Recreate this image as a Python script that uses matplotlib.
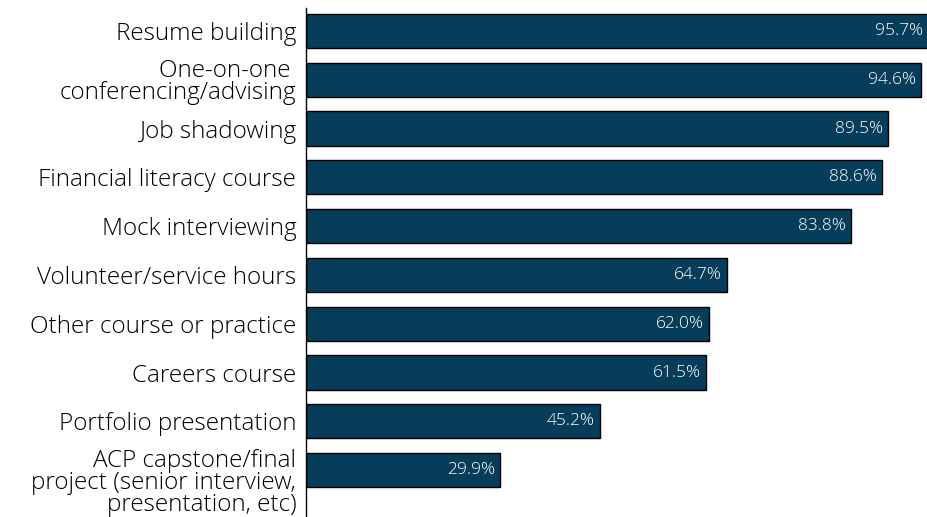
import matplotlib.pyplot as plt
from matplotlib.transforms import ScaledTranslation
import numpy as np

plt.rcParams['font.family'] = ['Open Sans', 'DejaVu Sans']

categories = [
    "Resume building",
    "One-on-one \nconferencing/advising",
    "Job shadowing",
    "Financial literacy course",
    "Mock interviewing",
    "Volunteer/service hours",
    "Other course or practice",
    "Careers course",
    "Portfolio presentation",
    "ACP capstone/final\nproject (senior interview,\npresentation, etc)",
]
values = [95.7, 94.6, 89.5, 88.6, 83.8, 64.7, 62.0, 61.5, 45.2, 29.9]

bar_color = "#063d5b"

fig = plt.figure(figsize=(9.27, 5.17), dpi=100)
ax = fig.add_axes([306 / 927, 0, 621 / 927, 509 / 517])

y = np.arange(len(categories))
ax.barh(y, values, height=0.7, color=bar_color, edgecolor="black", linewidth=1)

for yi, v in zip(y, values):
    ax.text(v - 0.8, yi, f"{v:.1f}%", color="white", ha="right", va="center",
            fontsize=12.5, fontweight="light")

ax.set_yticks(y)
ax.set_yticklabels(categories, fontsize=17.5, fontweight="light", linespacing=0.9)
ax.tick_params(axis="y", length=0, pad=7)
# last label sits a bit lower than its bar in the original
last = ax.get_yticklabels()[-1]
last.set_transform(last.get_transform() + ScaledTranslation(0, -0.11, fig.dpi_scale_trans))
ax.set_xticks([])
ax.set_xlim(0, 95.5)
ax.set_ylim(9.96, -0.47)

for side in ["top", "right", "bottom"]:
    ax.spines[side].set_visible(False)
ax.spines["left"].set_linewidth(1)

fig.savefig("out.png", dpi=100)
